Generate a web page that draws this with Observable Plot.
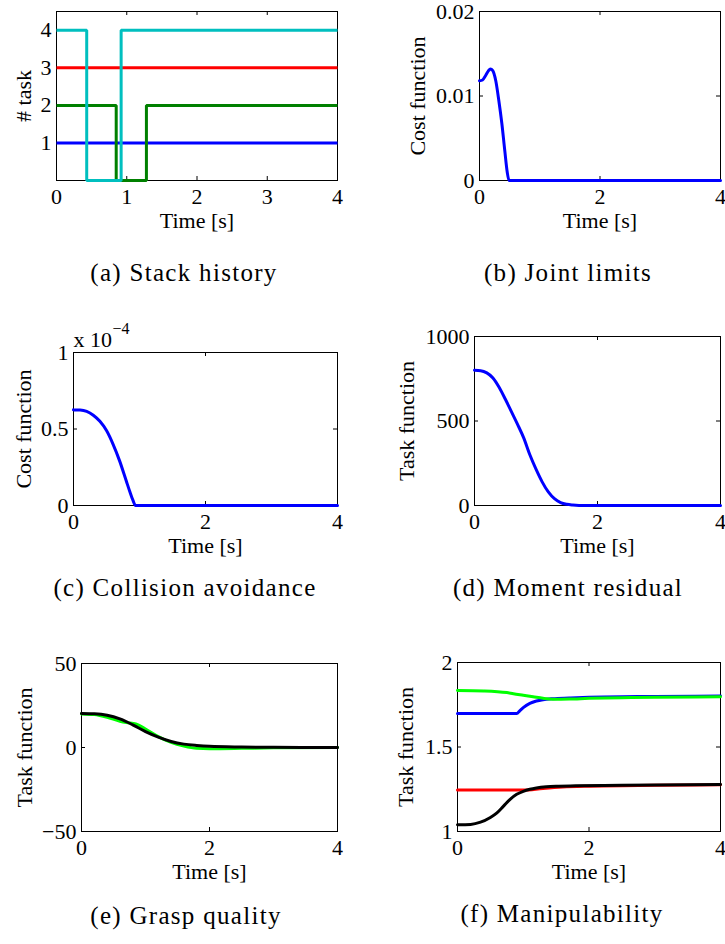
<!DOCTYPE html>
<html><head><meta charset="utf-8">
<script src="https://cdn.jsdelivr.net/npm/d3@7"></script>
<script src="https://cdn.jsdelivr.net/npm/@observablehq/plot@0.6"></script>
<style>
body{margin:0;background:#fff;}
#fig{position:relative;width:725px;height:944px;overflow:hidden;background:#fff;}
.panel{position:absolute;}
.panel svg{overflow:visible;}
.cap{position:absolute;font-family:"Liberation Serif","Times New Roman",Times,serif;font-size:25px;line-height:26px;letter-spacing:1.3px;white-space:nowrap;transform:translateX(-50%);color:#000;font-weight:normal;}
</style></head><body><div id="fig"></div>
<script>
// ---------- data ----------
// (a) Stack history (step changes)
const tA_blue = [0, 4],               vA_blue = [1, 1];
const tA_green = [0, 0.85, 1.28, 4],  vA_green = [2, 0, 2, 2];
const tA_red = [0, 4],                vA_red = [3, 3];
const tA_cyan = [0, 0.43, 0.92, 4],   vA_cyan = [4, 0, 4, 4];
// (b) Joint limits
const tB = [0, 0.05, 0.1, 0.15, 0.18, 0.22, 0.27, 0.32, 0.37, 0.42, 0.46, 0.49, 4];
const vB = [0.0118, 0.0119, 0.0124, 0.0130, 0.0132, 0.0130, 0.0118, 0.0095, 0.0068, 0.0035, 0.0010, 0, 0];
// (c) Collision avoidance (x 1e-4)
const tC = [0, 0.1, 0.2, 0.3, 0.4, 0.5, 0.6, 0.7, 0.8, 0.85, 0.9, 0.94, 4];
const vC = [0.625, 0.624, 0.615, 0.59, 0.55, 0.49, 0.40, 0.29, 0.16, 0.095, 0.035, 0, 0];
// (d) Moment residual
const tD = [0, 0.1, 0.2, 0.3, 0.4, 0.5, 0.6, 0.7, 0.8, 0.9, 1.0, 1.1, 1.2, 1.3, 1.4, 1.5, 1.6, 1.8, 4];
const vD = [800, 798, 785, 755, 700, 630, 555, 480, 400, 300, 215, 140, 80, 40, 17, 7, 3, 0, 0];
// (e) Grasp quality
const tE_black = [0, 0.2, 0.4, 0.6, 0.8, 1.0, 1.2, 1.4, 1.6, 1.8, 2.0, 2.5, 3, 4];
const vE_black = [20.3, 20.1, 19.2, 17.0, 13.5, 9.5, 6.2, 3.6, 2.0, 1.2, 0.7, 0.3, 0.1, 0];
const tE_green = [0, 0.2, 0.4, 0.6, 0.7, 0.85, 1.0, 1.2, 1.4, 1.6, 1.8, 2.0, 2.5, 3, 4];
const vE_green = [20.0, 19.6, 18.0, 15.6, 14.8, 14.0, 11.0, 6.5, 3.0, 0.8, -0.5, -0.7, -0.5, -0.2, 0];
// (f) Manipulability
const tF_green = [0, 0.4, 0.75, 0.85, 1.0, 1.15, 1.3, 1.45, 1.7, 2.0, 2.5, 3, 4];
const vF_green = [1.835, 1.832, 1.822, 1.815, 1.806, 1.797, 1.788, 1.783, 1.784, 1.788, 1.792, 1.795, 1.797];
const tF_blue = [0, 0.9, 0.95, 1.0, 1.1, 1.2, 1.3, 1.45, 1.7, 2.0, 3, 4];
const vF_blue = [1.698, 1.698, 1.715, 1.733, 1.758, 1.772, 1.780, 1.786, 1.790, 1.794, 1.799, 1.802];
const tF_red = [0, 1.0, 1.3, 1.6, 2.0, 3, 4];
const vF_red = [1.245, 1.245, 1.255, 1.263, 1.268, 1.273, 1.276];
const tF_black = [0, 0.2, 0.35, 0.5, 0.6, 0.7, 0.8, 0.9, 1.0, 1.1, 1.2, 1.35, 1.5, 1.8, 2.5, 4];
const vF_black = [1.040, 1.042, 1.055, 1.083, 1.11, 1.15, 1.19, 1.22, 1.238, 1.25, 1.258, 1.265, 1.268, 1.270, 1.273, 1.278];

// ticks & labels
const xTicksA = [0, 1, 2, 3, 4];
const xTicks = [0, 2, 4];
const yTicksA = [1, 2, 3, 4];
const yTicksB = [0, 0.01, 0.02];
const yTicksC = [0, 0.5, 1];
const yTicksD = [0, 500, 1000];
const yTicksE = [-50, 0, 50];
const yTicksF = [1, 1.5, 2];
const xLabel = "Time [s]";
const captions = ["(a) Stack history", "(b) Joint limits", "(c) Collision avoidance",
                  "(d) Moment residual", "(e) Grasp quality", "(f) Manipulability"];

// ---------- drawing ----------
const fig = document.getElementById("fig");
const TICK = 4;
const fmt = d => d < 0 ? "\u2212" + (-d) : String(d);

function panel(o) {
  const H = 240;
  const [fl, fr, ft, fb] = o.frame;
  const mL = fl - o.left, mR = o.left + o.width - fr, mT = ft - o.top, mB = o.top + H - fb;
  const innerH = fb - ft, innerW = fr - fl;
  const marks = [
    Plot.frame({stroke: "black", strokeWidth: 1}),
    Plot.tickX(o.xTicks, {x: d => d, insetTop: innerH - TICK, stroke: "black"}),
    Plot.tickX(o.xTicks, {x: d => d, insetBottom: innerH - TICK, stroke: "black"}),
    Plot.tickY(o.yTicks, {y: d => d, insetRight: innerW - TICK, stroke: "black"}),
    Plot.tickY(o.yTicks, {y: d => d, insetLeft: innerW - TICK, stroke: "black"}),
    Plot.axisX(o.xTicks, {tickSize: 0, tickPadding: 8, tickFormat: fmt, label: null}),
    Plot.axisY(o.yTicks, {tickSize: 0, tickPadding: 5, tickFormat: fmt, label: null}),
    ...o.series.map(s => Plot.line(s.v, {x: s.t, y: s.v, stroke: s.color, strokeWidth: 3,
        curve: s.curve || "monotone-x",
        strokeLinecap: s.curve ? "butt" : "round", strokeLinejoin: s.curve ? "miter" : "round"})),
    Plot.text([o.ylabel], {frameAnchor: "left", rotate: -90, dx: -o.yOff, lineAnchor: "middle", textAnchor: "middle"}),
    Plot.text([xLabel], {frameAnchor: "bottom", dy: 47, lineAnchor: "bottom", textAnchor: "middle"})
  ];
  if (o.exponent) {
    marks.push(Plot.text(["x 10"], {frameAnchor: "top-left", dy: -6, lineAnchor: "bottom", textAnchor: "start"}));
    marks.push(Plot.text([o.exponent], {frameAnchor: "top-left", dx: 39, dy: -19, lineAnchor: "bottom", textAnchor: "start", fontSize: 16}));
  }
  const p = Plot.plot({
    width: o.width, height: H,
    marginLeft: mL, marginRight: mR, marginTop: mT, marginBottom: mB,
    x: {domain: [0, 4]},
    y: {domain: o.yDomain},
    style: {fontFamily: "Liberation Serif, serif", fontSize: "22px", color: "black", background: "transparent", overflow: "visible"},
    marks
  });
  const div = document.createElement("div");
  div.className = "panel";
  div.style.left = o.left + "px";
  div.style.top = o.top + "px";
  div.appendChild(p);
  fig.appendChild(div);
}

panel({left: 0, top: 0, width: 362, frame: [56, 337, 11, 180], yDomain: [0, 4.5],
  xTicks: xTicksA, yTicks: yTicksA, ylabel: "# task", yOff: 33,
  series: [
    {t: tA_blue, v: vA_blue, color: "#0000ff", curve: "step-after"},
    {t: tA_green, v: vA_green, color: "#008000", curve: "step-after"},
    {t: tA_red, v: vA_red, color: "#ff0000", curve: "step-after"},
    {t: tA_cyan, v: vA_cyan, color: "#00bfbf", curve: "step-after"}
  ]});
panel({left: 362, top: 0, width: 363, frame: [479, 720, 11, 180], yDomain: [0, 0.02],
  xTicks, yTicks: yTicksB, ylabel: "Cost function", yOff: 62,
  series: [{t: tB, v: vB, color: "#0000ff"}]});
panel({left: 0, top: 320, width: 362, frame: [73, 337, 352, 505], yDomain: [0, 1],
  xTicks, yTicks: yTicksC, ylabel: "Cost function", yOff: 50, exponent: "\u22124",
  series: [{t: tC, v: vC, color: "#0000ff"}]});
panel({left: 362, top: 320, width: 363, frame: [474, 720, 336, 505], yDomain: [0, 1000],
  xTicks, yTicks: yTicksD, ylabel: "Task function", yOff: 68,
  series: [{t: tD, v: vD, color: "#0000ff"}]});
panel({left: 0, top: 640, width: 362, frame: [81, 337, 663, 831], yDomain: [-50, 50],
  xTicks, yTicks: yTicksE, ylabel: "Task function", yOff: 57,
  series: [
    {t: tE_green, v: vE_green, color: "#00ff00"},
    {t: tE_black, v: vE_black, color: "#000000"}
  ]});
panel({left: 362, top: 640, width: 363, frame: [457, 720, 662, 831], yDomain: [1, 2],
  xTicks, yTicks: yTicksF, ylabel: "Task function", yOff: 52,
  series: [
    {t: tF_red, v: vF_red, color: "#ff0000"},
    {t: tF_black, v: vF_black, color: "#000000"},
    {t: tF_blue, v: vF_blue, color: "#0000ff"},
    {t: tF_green, v: vF_green, color: "#00ff00"}
  ]});

// captions
const capPos = [[184, 260], [568, 260], [185, 575], [568, 575], [186, 903], [562, 901]];
captions.forEach((c, i) => {
  const d = document.createElement("div");
  d.className = "cap";
  d.textContent = c;
  d.style.left = capPos[i][0] + "px";
  d.style.top = capPos[i][1] + "px";
  fig.appendChild(d);
});
</script></body></html>
